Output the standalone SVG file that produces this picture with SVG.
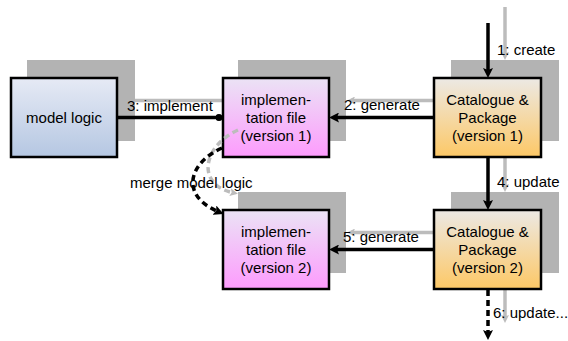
<svg xmlns="http://www.w3.org/2000/svg" width="568" height="341" viewBox="0 0 568 341">
<defs>
<linearGradient id="gBlue" x1="0" y1="0" x2="0" y2="1"><stop offset="0" stop-color="#e6eaf5"/><stop offset="1" stop-color="#b5c7e2"/></linearGradient>
<linearGradient id="gPink" x1="0" y1="0" x2="0" y2="1"><stop offset="0" stop-color="#ebe3f5"/><stop offset="1" stop-color="#fd9bfd"/></linearGradient>
<linearGradient id="gOrange" x1="0" y1="0" x2="0" y2="1"><stop offset="0" stop-color="#ece9e5"/><stop offset="1" stop-color="#fdc866"/></linearGradient>
<marker id="ah" viewBox="0 0 10 10" refX="5" refY="5" markerWidth="10" markerHeight="10" markerUnits="userSpaceOnUse" orient="auto"><path d="M0,0 L10,5 L0,10 L2,5 z" fill="#000"/></marker>
<marker id="ahg" viewBox="0 0 10 10" refX="5" refY="5" markerWidth="8" markerHeight="8" markerUnits="userSpaceOnUse" orient="auto"><path d="M0,0 L10,5 L0,10 L2,5 z" fill="#bcbcbc"/></marker>
<marker id="dot" viewBox="0 0 10 10" refX="5" refY="5" markerWidth="7" markerHeight="7" markerUnits="userSpaceOnUse" orient="auto"><ellipse cx="5" cy="5" rx="5" ry="5" fill="#000"/></marker>
</defs>
<style>
text{font-family:"Liberation Sans",Arial,sans-serif;font-size:15px;fill:#000}
.c{text-anchor:middle}
.sh{fill:#b3b3b3}
.box{stroke:#000;stroke-width:2.5}
.gl{stroke:#bcbcbc;stroke-width:3.5;fill:none;marker-end:url(#ahg)}
.bl{stroke:#000;stroke-width:3.5;fill:none;marker-end:url(#ah)}
.dash{stroke-dasharray:6 4}
</style>
<rect width="568" height="341" fill="#fff"/>
<g id="shadows">
<rect class="sh" x="27" y="60" width="108" height="81"/>
<rect class="sh" x="238" y="60" width="108" height="81"/>
<rect class="sh" x="451" y="60" width="108" height="81"/>
<rect class="sh" x="238" y="192" width="108" height="81"/>
<rect class="sh" x="451" y="192" width="108" height="81"/>
</g>
<g id="connectors-previous">
<line class="gl" x1="505" y1="7" x2="505" y2="56"/>
<line class="gl" x1="434" y1="100.5" x2="351" y2="100.5"/>
<line class="gl" x1="135" y1="100.5" x2="234" y2="100.5"/>
<line class="gl" x1="505" y1="157" x2="505" y2="188"/>
<line class="gl" x1="434" y1="232.5" x2="351" y2="232.5"/>
<line class="gl" x1="505" y1="289" x2="505" y2="319"/>
</g>
<g id="model-logic">
<rect class="box" x="11" y="78" width="106" height="79" fill="url(#gBlue)"/>
<text class="c" x="64" y="122.5">model logic</text>
</g>
<g id="impl-v1">
<rect class="box" x="223" y="78" width="106" height="79" fill="url(#gPink)"/>
<text class="c" x="276" y="104.5">implemen-</text>
<text class="c" x="276" y="122.5">tation file</text>
<text class="c" x="276" y="140.5">(version 1)</text>
</g>
<g id="catalogue-v1">
<rect class="box" x="434" y="78" width="107" height="79" fill="url(#gOrange)"/>
<text class="c" x="487.5" y="104.5">Catalogue &amp;</text>
<text class="c" x="487.5" y="122.5">Package</text>
<text class="c" x="487.5" y="140.5">(version 1)</text>
</g>
<g id="impl-v2">
<rect class="box" x="223" y="210" width="106" height="79" fill="url(#gPink)"/>
<text class="c" x="276" y="236.5">implemen-</text>
<text class="c" x="276" y="254.5">tation file</text>
<text class="c" x="276" y="272.5">(version 2)</text>
</g>
<g id="catalogue-v2">
<rect class="box" x="434" y="210" width="107" height="79" fill="url(#gOrange)"/>
<text class="c" x="487.5" y="236.5">Catalogue &amp;</text>
<text class="c" x="487.5" y="254.5">Package</text>
<text class="c" x="487.5" y="272.5">(version 2)</text>
</g>
<g id="connectors">
<path class="gl dash" d="M238 130 C203 146 195 185 234 193"/>
<line class="bl" x1="488" y1="23" x2="488" y2="73"/>
<line class="bl" x1="434" y1="117.5" x2="334" y2="117.5"/>
<line x1="118" y1="117.5" x2="219" y2="117.5" stroke="#000" stroke-width="3.5" marker-end="url(#dot)"/>
<line class="bl" x1="488" y1="157" x2="488" y2="205"/>
<line class="bl" x1="434" y1="249.5" x2="334" y2="249.5"/>
<line class="bl dash" x1="488" y1="290" x2="488" y2="335"/>
<path class="bl dash" d="M222 148 C190 162 178 195 219 212"/>
<text x="497" y="55">1: create</text>
<text x="344" y="110">2: generate</text>
<text x="127" y="111">3: implement</text>
<text x="497" y="187">4: update</text>
<text x="343" y="242">5: generate</text>
<text x="493" y="318">6: update...</text>
<text x="130" y="188">merge model logic</text>
</g>
</svg>
